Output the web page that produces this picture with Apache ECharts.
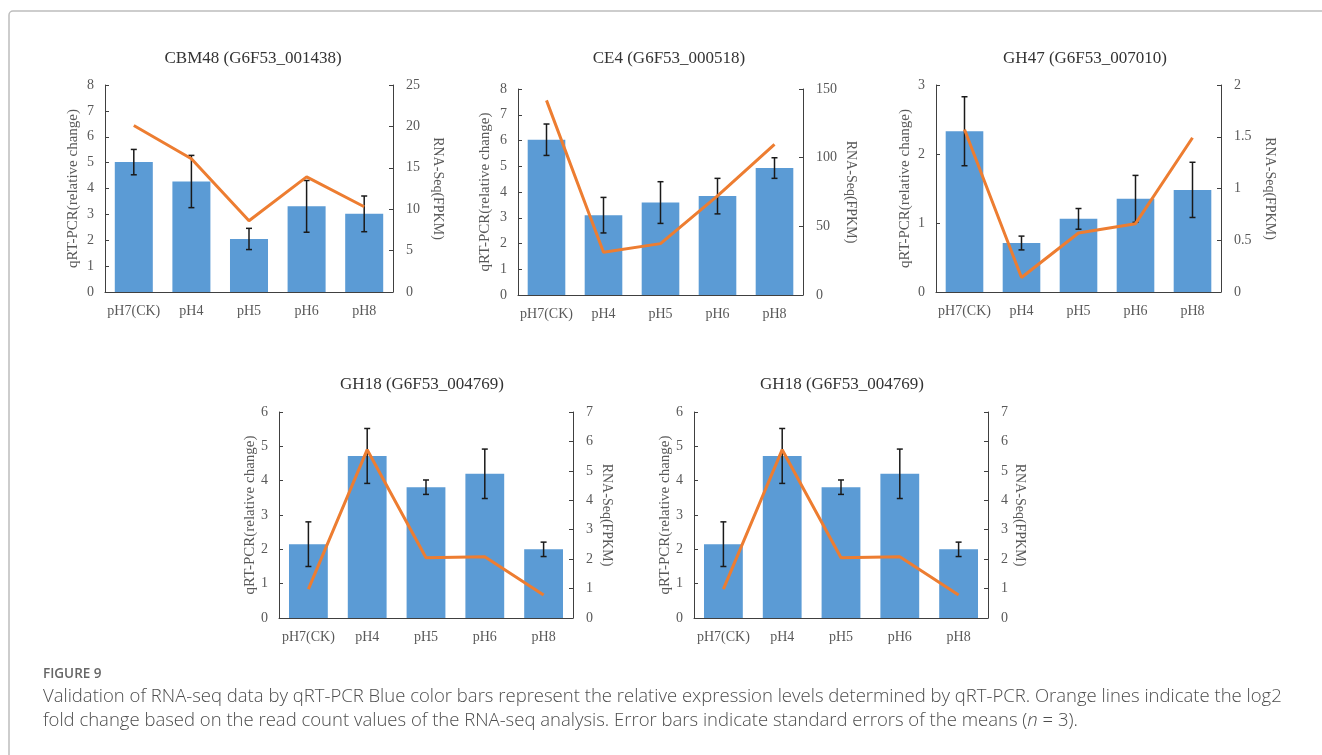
<!DOCTYPE html>
<html>
<head>
    <meta charset="utf-8">
    <title>Figure 9</title>
    <script src="https://cdn.jsdelivr.net/npm/echarts@6/dist/echarts.min.js"></script>
    <style>
        body { margin: 0; background: #fff; }
    </style>
</head>
<body>

<div id="main" style="width: 1322px;height:755px;"></div>

<script type="text/javascript">

    // categories shared by all panels
    var categories = ['pH7(CK)', 'pH4', 'pH5', 'pH6', 'pH8'];

    // CBM48
    var cbm48Qpcr = [5.02, 4.27, 2.05, 3.31, 3.02];
    var cbm48Err = [0.49, 1.01, 0.41, 1.0, 0.69];
    var cbm48Seq = [20.1, 16.1, 8.6, 13.9, 10.3];

    // CE4
    var ce4Qpcr = [6.03, 3.1, 3.59, 3.84, 4.93];
    var ce4Err = [0.61, 0.69, 0.81, 0.69, 0.4];
    var ce4Seq = [141.7, 31.1, 37.4, 72.2, 109.6];

    // GH47
    var gh47Qpcr = [2.33, 0.71, 1.06, 1.35, 1.48];
    var gh47Err = [0.5, 0.1, 0.15, 0.34, 0.4];
    var gh47Seq = [1.57, 0.14, 0.57, 0.66, 1.49];

    // GH18 (drawn twice in the figure)
    var gh18Qpcr = [2.15, 4.72, 3.81, 4.2, 2.0];
    var gh18Err = [0.65, 0.8, 0.21, 0.72, 0.21];
    var gh18Seq = [0.98, 5.72, 2.05, 2.08, 0.78];

    var titles = ['CBM48 (G6F53_001438)', 'CE4 (G6F53_000518)', 'GH47 (G6F53_007010)',
                  'GH18 (G6F53_004769)', 'GH18 (G6F53_004769)'];
    var leftMax = [8, 8, 3, 6, 6];
    var leftStep = [1, 1, 1, 1, 1];
    var rightMax = [25, 150, 2, 7, 7];
    var rightStep = [5, 50, 0.5, 1, 1];

    var caption1 = 'Validation of RNA-seq data by qRT-PCR Blue color bars represent the relative expression levels determined by qRT-PCR. Orange lines indicate the log2';
    var caption2 = 'fold change based on the read count values of the RNA-seq analysis. Error bars indicate standard errors of the means (';
    var caption3 = ' = 3).';

    var panels = [
        {qpcr: cbm48Qpcr, err: cbm48Err, seq: cbm48Seq, grid: {left: 105, top: 85, width: 288, height: 207}, tx: 248, ty: 45, ln: 24.5, rn: 38},
        {qpcr: ce4Qpcr, err: ce4Err, seq: ce4Seq, grid: {left: 518, top: 89, width: 285, height: 206}, tx: 664, ty: 45, ln: 25.5, rn: 41},
        {qpcr: gh47Qpcr, err: gh47Err, seq: gh47Seq, grid: {left: 936, top: 85, width: 285, height: 207}, tx: 1080, ty: 45, ln: 23.5, rn: 42},
        {qpcr: gh18Qpcr, err: gh18Err, seq: gh18Seq, grid: {left: 279, top: 412, width: 294, height: 206}, tx: 417, ty: 371, ln: 21.5, rn: 27},
        {qpcr: gh18Qpcr, err: gh18Err, seq: gh18Seq, grid: {left: 694, top: 412, width: 294, height: 206}, tx: 837, ty: 371, ln: 21.5, rn: 25}
    ];

    var serif = '"Liberation Serif", "Times New Roman", serif';
    var axisColor = '#404040';
    var labelColor = '#595959';

    var option = {
        backgroundColor: '#fff',
        animation: false,
        title: [],
        grid: [],
        xAxis: [],
        yAxis: [],
        series: [],
        graphic: []
    };

    panels.forEach(function (p, i) {
        option.title.push({
            text: titles[i],
            left: p.tx,
            top: p.ty,
            textAlign: 'center',
            textStyle: {fontFamily: serif, fontSize: 17, fontWeight: 'normal', color: '#333'}
        });
        option.grid.push(p.grid);
        option.xAxis.push({
            type: 'category',
            gridIndex: i,
            data: categories,
            axisLine: {lineStyle: {color: axisColor, width: 1}},
            axisTick: {alignWithLabel: true, inside: true, length: 4, lineStyle: {color: axisColor}},
            axisLabel: {fontFamily: serif, fontSize: 14, color: labelColor, margin: 12, interval: 0}
        });
        option.yAxis.push({
            type: 'value',
            gridIndex: i,
            min: 0,
            max: leftMax[i],
            interval: leftStep[i],
            name: 'qRT-PCR(relative change)',
            nameLocation: 'middle',
            nameRotate: 90,
            nameGap: p.ln,
            nameTextStyle: {fontFamily: serif, fontSize: 15, color: labelColor},
            axisLine: {show: true, lineStyle: {color: axisColor, width: 1}},
            axisTick: {show: true, inside: true, length: 4, lineStyle: {color: axisColor}},
            axisLabel: {fontFamily: serif, fontSize: 14, color: labelColor, margin: 11},
            splitLine: {show: false}
        });
        option.yAxis.push({
            type: 'value',
            gridIndex: i,
            position: 'right',
            min: 0,
            max: rightMax[i],
            interval: rightStep[i],
            name: 'RNA-Seq(FPKM)',
            nameLocation: 'middle',
            nameRotate: -90,
            nameGap: p.rn,
            nameTextStyle: {fontFamily: serif, fontSize: 14, color: labelColor},
            axisLine: {show: true, lineStyle: {color: axisColor, width: 1}},
            axisTick: {show: true, inside: true, length: 4, lineStyle: {color: axisColor}},
            axisLabel: {fontFamily: serif, fontSize: 14, color: labelColor, margin: 13},
            splitLine: {show: false}
        });

        option.series.push({
            type: 'bar',
            xAxisIndex: i,
            yAxisIndex: i * 2,
            data: p.qpcr,
            barCategoryGap: '34%',
            itemStyle: {color: '#5B9BD5'},
            z: 2
        });

        var errData = p.qpcr.map(function (v, k) { return [k, v, p.err[k]]; });
        option.series.push({
            type: 'custom',
            xAxisIndex: i,
            yAxisIndex: i * 2,
            data: errData,
            z: 3,
            renderItem: function (params, api) {
                var k = api.value(0);
                var v = api.value(1);
                var e = api.value(2);
                var hi = api.coord([k, v + e]);
                var lo = api.coord([k, v - e]);
                var cap = 3;
                var st = {stroke: '#1a1a1a', lineWidth: 1.5};
                return {
                    type: 'group',
                    children: [
                        {type: 'line', shape: {x1: hi[0], y1: hi[1], x2: lo[0], y2: lo[1]}, style: st},
                        {type: 'line', shape: {x1: hi[0] - cap, y1: hi[1], x2: hi[0] + cap, y2: hi[1]}, style: st},
                        {type: 'line', shape: {x1: lo[0] - cap, y1: lo[1], x2: lo[0] + cap, y2: lo[1]}, style: st}
                    ]
                };
            }
        });

        option.series.push({
            type: 'line',
            xAxisIndex: i,
            yAxisIndex: i * 2 + 1,
            data: p.seq,
            symbol: 'none',
            lineStyle: {color: '#ED7D31', width: 3},
            z: 4
        });
    });

    // page frame and caption
    option.graphic.push({
        type: 'rect',
        shape: {x: 9, y: 11, width: 1400, height: 800, r: 4},
        style: {fill: 'none', stroke: '#bdbdbd', lineWidth: 1.5},
        silent: true
    });
    option.graphic.push({
        type: 'text',
        left: 43, top: 667,
        style: {text: 'FIGURE 9', font: '600 13.5px "Open Sans", sans-serif', fill: '#666'}
    });
    option.graphic.push({
        type: 'text',
        left: 43, top: 687,
        style: {text: caption1, font: '300 18.5px "Open Sans", sans-serif', fill: '#4d4d4d'}
    });
    option.graphic.push({
        type: 'text',
        left: 43, top: 711,
        style: {
            text: '{a|' + caption2 + '}{b|n}{a|' + caption3 + '}',
            rich: {
                a: {font: '300 18.5px "Open Sans", sans-serif', fill: '#4d4d4d'},
                b: {font: 'italic 300 18.5px "Open Sans", sans-serif', fill: '#4d4d4d'}
            }
        }
    });

    var myChart = echarts.init(document.getElementById('main'));
    myChart.setOption(option);

</script>
</body>
</html>
